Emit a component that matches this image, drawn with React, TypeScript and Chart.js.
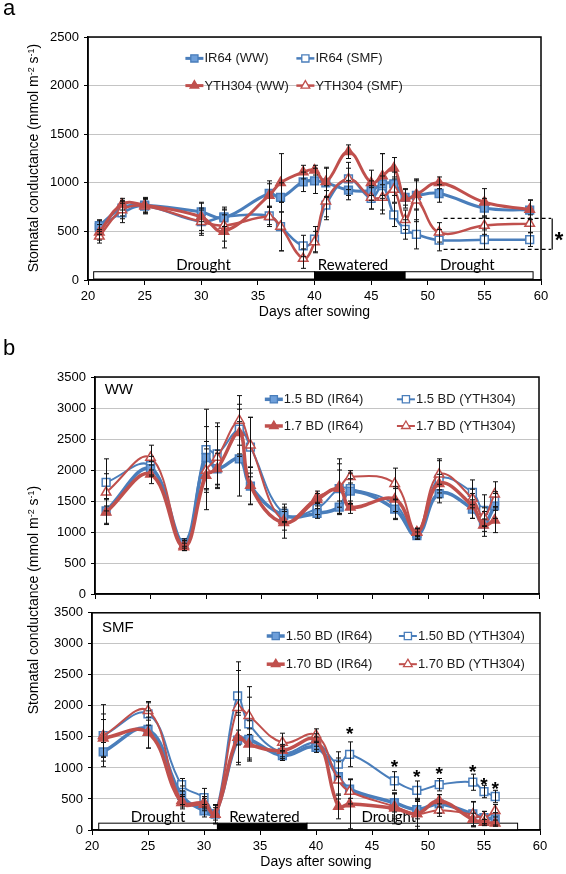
import React, { useEffect, useRef } from "react";
import { Chart, registerables } from "chart.js";

Chart.register(...registerables);

const FONT = "'Liberation Sans', Arial, Helvetica, sans-serif";
const NOTE_FONT = "Lato, 'Open Sans', sans-serif";
const BLUE = "#4A7EBB";
const BLUE_FILL = "#6E9FDA";
const RED = "#C0504D";
const WHITE = "#FFFFFF";

// ---------- Panel a ----------
const daysA = [21, 23, 25, 30, 32, 36, 37, 39, 40, 41, 43, 45, 46, 47, 48, 49, 51, 55, 59];
const ir64WW = [560, 740, 770, 700, 640, 890, 850, 1010, 1020, 1000, 925, 920, 990, 990, 850, 870, 890, 740, 720];
const ir64SMF = [540, 690, 760, 600, 650, 660, 550, 350, 420, 770, 1040, 840, 970, 670, 520, 470, 410, 415, 415];
const yth304WW = [490, 780, 770, 650, 500, 870, 1000, 1110, 1130, 1010, 1320, 1000, 1070, 1150, 840, 880, 1000, 800, 725];
const yth304SMF = [450, 720, 760, 600, 560, 650, 550, 220, 390, 810, 1040, 850, 850, 930, 620, 820, 490, 560, 580];
const ir64WWErr = [60, 80, 70, 100, 90, 130, 150, 100, 130, 150, 100, 100, 310, 120, 80, 150, 90, 100, 100];
const ir64SMFErr = [70, 100, 80, 120, 100, 90, 250, 110, 130, 150, 110, 110, 100, 120, 100, 150, 110, 100, 70];
const yth304WWErr = [80, 60, 80, 140, 170, 120, 300, 70, 50, 150, 70, 130, 230, 110, 100, 150, 60, 140, 100];
const yth304SMFErr = [70, 90, 70, 140, 160, 100, 250, 100, 110, 160, 170, 120, 130, 130, 100, 220, 100, 90, 90];
const periodsA = [
  { start: 20.5, end: 40, dark: false },
  { start: 40, end: 48, dark: true },
  { start: 48, end: 59.3, dark: false },
];
const periodLabelsA = [
  { text: "Drought", day: 30.2 },
  { text: "Rewatered", day: 43.4 },
  { text: "Drought", day: 53.5 },
];
const sigValuesA = [633, 315];
const sigDaysA = [51.4, 60.9];
const sigStarA = { day: 61.6, value: 470 };
const legendA = [
  { label: "IR64 (WW)", ds: 0, day: 28.6, value: 2280 },
  { label: "IR64 (SMF)", ds: 1, day: 38.4, value: 2280 },
  { label: "YTH304 (WW)", ds: 2, day: 28.6, value: 2000 },
  { label: "YTH304 (SMF)", ds: 3, day: 38.4, value: 2000 },
];

// ---------- Panel b ----------
const daysB = [21, 25, 28, 30, 31, 33, 34, 37, 40, 42, 43, 47, 49, 51, 54, 55, 56];
// WW
const ww15IR64 = [1340, 2020, 830, 2200, 2020, 2180, 1740, 1270, 1300, 1400, 1660, 1370, 940, 1620, 1370, 1130, 1420];
const ww15YTH = [1800, 2070, 800, 2330, 2260, 2660, 2370, 1300, 1380, 1700, 1700, 1450, 980, 1850, 1640, 1350, 1500];
const ww17IR64 = [1320, 1930, 760, 1910, 2020, 2600, 1750, 1150, 1520, 1700, 1400, 1530, 990, 1780, 1420, 1110, 1190];
const ww17YTH = [1640, 2200, 780, 1990, 2200, 2800, 2400, 1180, 1560, 1730, 1890, 1780, 1000, 1930, 1540, 1240, 1610];
const ww15IR64Err = [200, 120, 60, 500, 300, 600, 300, 100, 80, 100, 200, 150, 60, 150, 150, 200, 200];
const ww15YTHErr = [380, 150, 60, 650, 500, 400, 480, 150, 100, 400, 250, 250, 80, 300, 200, 250, 150];
const ww17IR64Err = [200, 150, 60, 550, 250, 380, 300, 250, 100, 300, 100, 200, 60, 150, 200, 100, 200];
const ww17YTHErr = [300, 200, 80, 350, 500, 400, 450, 150, 100, 450, 100, 250, 60, 250, 150, 150, 200];
const legendWW = [
  { label: "1.5 BD (IR64)", ds: 0, day: 35.3, value: 3140 },
  { label: "1.5 BD (YTH304)", ds: 1, day: 47.2, value: 3140 },
  { label: "1.7 BD (IR64)", ds: 2, day: 35.3, value: 2710 },
  { label: "1.7 BD (YTH304)", ds: 3, day: 47.2, value: 2710 },
];
// SMF
const smf150IR64 = [1260, 1620, 560, 310, 260, 1450, 1460, 1200, 1330, 860, 660, 440, 330, 420, 260, 200, 180];
const smf150YTH = [1520, 1870, 730, 520, 260, 2160, 1710, 1250, 1400, 1060, 1220, 790, 640, 730, 770, 620, 540];
const smf170IR64 = [1480, 1570, 440, 410, 250, 1490, 1380, 1280, 1450, 380, 420, 350, 260, 470, 170, 120, 110];
const smf170YTH = [1520, 1920, 470, 440, 250, 1970, 1840, 1410, 1530, 800, 620, 380, 260, 320, 250, 200, 310];
const smf150IR64Err = [150, 300, 150, 100, 100, 400, 300, 80, 80, 300, 150, 150, 150, 150, 200, 100, 100];
const smf150YTHErr = [500, 180, 100, 150, 150, 550, 600, 100, 100, 200, 200, 150, 150, 100, 130, 100, 100];
const smf170IR64Err = [300, 250, 100, 100, 150, 400, 250, 100, 100, 200, 400, 250, 250, 100, 100, 50, 50];
const smf170YTHErr = [350, 150, 100, 100, 150, 600, 300, 150, 100, 300, 200, 200, 200, 100, 200, 100, 100];
const smfStarDays = [43, 47, 49, 51, 54, 55, 56];
const smfStarValues = [1620, 1085, 925, 970, 1015, 800, 735];
const periodsB = [
  { start: 20.6, end: 31.2, dark: false },
  { start: 31.2, end: 39.2, dark: true },
  { start: 39.2, end: 58.0, dark: false },
];
const periodLabelsB = [
  { text: "Drought", day: 25.9 },
  { text: "Rewatered", day: 35.4 },
  { text: "Drought", day: 46.5 },
];
const legendSMF = [
  { label: "1.50 BD (IR64)", ds: 0, day: 35.6, value: 3126 },
  { label: "1.50 BD (YTH304)", ds: 1, day: 47.4, value: 3126 },
  { label: "1.70 BD (IR64)", ds: 2, day: 35.6, value: 2672 },
  { label: "1.70 BD (YTH304)", ds: 3, day: 47.4, value: 2672 },
];

// ---------- helpers ----------
function series(label: string, days: number[], vals: number[], errs: number[], kind: "sq" | "tri", filled: boolean, width: number) {
  const color = kind === "sq" ? BLUE : RED;
  return {
    label,
    data: days.map((d, i) => ({ x: d, y: vals[i] })),
    errors: errs,
    borderColor: color,
    borderWidth: width,
    tension: 0.4,
    fill: false,
    pointStyle: kind === "sq" ? "rect" : "triangle",
    pointRadius: 5.5,
    pointBackgroundColor: filled ? (kind === "sq" ? BLUE_FILL : RED) : WHITE,
    pointBorderColor: color,
    pointBorderWidth: 1.5,
    order: kind === "sq" ? 1 : 0,
  };
}

function drawMarker(ctx: CanvasRenderingContext2D, style: string, cx: number, cy: number, fill: string, stroke: string) {
  ctx.beginPath();
  if (style === "rect") {
    const s = 3.6;
    ctx.rect(cx - s, cy - s, 2 * s, 2 * s);
  } else {
    const r = 5;
    ctx.moveTo(cx, cy - r);
    ctx.lineTo(cx + r * 0.87, cy + r * 0.5);
    ctx.lineTo(cx - r * 0.87, cy + r * 0.5);
    ctx.closePath();
  }
  ctx.fillStyle = fill;
  ctx.fill();
  ctx.lineWidth = 1.3;
  ctx.strokeStyle = stroke;
  ctx.stroke();
}

type Extra = {
  periods?: { start: number; end: number; dark: boolean }[];
  band?: [number, number];
  periodLabels?: { text: string; day: number }[];
  legend?: { label: string; ds: number; day: number; value: number }[];
  tag?: { text: string; day: number; value: number };
  stars?: { days: number[]; values: number[]; size: number };
  sig?: boolean;
};

function makeDecor(ex: Extra) {
  return {
    id: "decor",
    beforeDatasetsDraw(chart: any) {
      const { ctx, scales } = chart;
      const x = scales.x, y = scales.y;
      if (ex.periods && ex.band) {
        const yTop = y.getPixelForValue(ex.band[1]);
        const yBot = y.getPixelForValue(ex.band[0]);
        ctx.save();
        for (const p of ex.periods) {
          const x0 = x.getPixelForValue(p.start);
          const x1 = x.getPixelForValue(p.end);
          ctx.fillStyle = p.dark ? "#000" : "#fff";
          ctx.fillRect(x0, yTop, x1 - x0, yBot - yTop);
          ctx.strokeStyle = "#000";
          ctx.lineWidth = 1;
          ctx.strokeRect(x0, yTop, x1 - x0, yBot - yTop);
        }
        if (ex.periodLabels) {
          ctx.font = `15px ${NOTE_FONT}`;
          ctx.fillStyle = "#000";
          ctx.textAlign = "center";
          ctx.textBaseline = "bottom";
          for (const l of ex.periodLabels) ctx.fillText(l.text, x.getPixelForValue(l.day), yTop + 1);
        }
        ctx.restore();
      }
    },
    afterDatasetsDraw(chart: any) {
      const { ctx, chartArea, scales } = chart;
      const y = scales.y;
      ctx.save();
      ctx.beginPath();
      ctx.rect(chartArea.left, chartArea.top - 2, chartArea.right - chartArea.left, chartArea.bottom - chartArea.top + 2);
      ctx.clip();
      ctx.strokeStyle = "#111";
      ctx.lineWidth = 1;
      chart.data.datasets.forEach((ds: any, i: number) => {
        if (!ds.errors) return;
        const meta = chart.getDatasetMeta(i);
        meta.data.forEach((pt: any, j: number) => {
          const v = ds.data[j].y;
          const e = ds.errors[j];
          const top = y.getPixelForValue(v + e);
          const bot = y.getPixelForValue(v - e);
          const px = Math.round(pt.x) + 0.5;
          ctx.beginPath();
          ctx.moveTo(px, top);
          ctx.lineTo(px, bot);
          ctx.moveTo(px - 2.5, top);
          ctx.lineTo(px + 2.5, top);
          ctx.moveTo(px - 2.5, bot);
          ctx.lineTo(px + 2.5, bot);
          ctx.stroke();
        });
      });
      ctx.restore();
    },
    afterDraw(chart: any) {
      const { ctx, chartArea, scales } = chart;
      const x = scales.x, y = scales.y;
      ctx.save();
      // plot frame
      ctx.strokeStyle = "#000";
      ctx.lineWidth = 1.5;
      ctx.strokeRect(chartArea.left, chartArea.top, chartArea.right - chartArea.left, chartArea.bottom - chartArea.top);
      // legend
      if (ex.legend) {
        ctx.font = `13px ${FONT}`;
        ctx.textBaseline = "middle";
        ctx.textAlign = "left";
        for (const it of ex.legend) {
          const ds: any = chart.data.datasets[it.ds];
          const x0 = x.getPixelForValue(it.day);
          const yy = y.getPixelForValue(it.value);
          const len = 18;
          ctx.beginPath();
          ctx.moveTo(x0, yy);
          ctx.lineTo(x0 + len, yy);
          ctx.strokeStyle = ds.borderColor;
          ctx.lineWidth = ds.borderWidth;
          ctx.stroke();
          drawMarker(ctx, ds.pointStyle, x0 + len / 2, yy, ds.pointBackgroundColor, ds.pointBorderColor);
          ctx.fillStyle = "#1a1a1a";
          ctx.fillText(it.label, x0 + len + 1, yy + 0.5);
        }
      }
      if (ex.tag) {
        ctx.font = `15px ${FONT}`;
        ctx.fillStyle = "#000";
        ctx.textAlign = "left";
        ctx.textBaseline = "middle";
        ctx.fillText(ex.tag.text, x.getPixelForValue(ex.tag.day), y.getPixelForValue(ex.tag.value));
      }
      if (ex.stars) {
        const sz = ex.stars.size;
        ctx.font = `bold ${sz}px ${FONT}`;
        ctx.fillStyle = "#000";
        ctx.textAlign = "center";
        ctx.textBaseline = "alphabetic";
        ex.stars.days.forEach((d, i) => {
          ctx.fillText("*", x.getPixelForValue(d), y.getPixelForValue(ex.stars!.values[i]) + sz * 0.56);
        });
      }
      if (ex.sig) {
        const xa = x.getPixelForValue(sigDaysA[0]);
        const xb = x.getPixelForValue(sigDaysA[1]);
        const ya = y.getPixelForValue(sigValuesA[0]);
        const yb = y.getPixelForValue(sigValuesA[1]);
        ctx.strokeStyle = "#000";
        ctx.lineWidth = 1.2;
        ctx.setLineDash([4, 3]);
        ctx.beginPath();
        ctx.moveTo(xa, ya);
        ctx.lineTo(xb, ya);
        ctx.moveTo(xa, yb);
        ctx.lineTo(xb, yb);
        ctx.stroke();
        ctx.setLineDash([]);
        ctx.beginPath();
        ctx.moveTo(xb + 1, ya);
        ctx.lineTo(xb + 1, yb);
        ctx.stroke();
        const sz = 22;
        ctx.font = `bold ${sz}px ${FONT}`;
        ctx.fillStyle = "#000";
        ctx.textAlign = "center";
        ctx.textBaseline = "alphabetic";
        ctx.fillText("*", x.getPixelForValue(sigStarA.day), y.getPixelForValue(sigStarA.value) + sz * 0.56);
      }
      ctx.restore();
    },
  };
}

function makeConfig(p: {
  datasets: any[];
  yMax: number;
  yWidth: number;
  xHeight: number;
  padding: { left: number; right: number; top: number; bottom: number };
  xLabels: boolean;
  xTitle: boolean;
  titlePad: number;
  extra: Extra;
}) {
  return {
    type: "line" as const,
    data: { datasets: p.datasets },
    options: {
      responsive: false,
      animation: false,
      events: [],
      layout: { padding: p.padding },
      plugins: { legend: { display: false }, tooltip: { enabled: false } },
      scales: {
        x: {
          type: "linear",
          min: 20,
          max: 60,
          ticks: {
            stepSize: 5,
            display: p.xLabels,
            color: "#000",
            font: { family: FONT, size: 13 },
            padding: 4,
            maxRotation: 0,
            autoSkip: false,
            callback: (v: any) => String(v),
          },
          grid: { drawOnChartArea: false, drawTicks: true, tickLength: 5, tickColor: "#000", color: "#000" },
          border: { display: true, color: "#000", width: 1.5 },
          title: {
            display: p.xTitle,
            text: "Days after sowing",
            color: "#000",
            font: { family: FONT, size: 14 },
            padding: { top: 0, bottom: p.titlePad },
          },
          afterFit: (s: any) => {
            s.height = p.xHeight;
          },
        },
        y: {
          min: 0,
          max: p.yMax,
          ticks: {
            stepSize: 500,
            color: "#000",
            font: { family: FONT, size: 13 },
            padding: 5,
            callback: (v: any) => String(v),
          },
          grid: { color: "#C4C4C4", lineWidth: 1, tickColor: "#000", tickLength: 4, drawTicks: true },
          border: { display: true, color: "#000", width: 1.5 },
          afterFit: (s: any) => {
            s.width = p.yWidth;
          },
        },
      },
    },
    plugins: [makeDecor(p.extra)],
  };
}

function ChartBox({ top, left, width, height, make }: { top: number; left: number; width: number; height: number; make: () => any }) {
  const ref = useRef<HTMLCanvasElement>(null);
  useEffect(() => {
    const chart = new Chart(ref.current as HTMLCanvasElement, make());
    return () => chart.destroy();
  }, []);
  return <canvas ref={ref} width={width} height={height} style={{ position: "absolute", top, left, width, height }} />;
}

const configA = () =>
  makeConfig({
    datasets: [
      series("IR64 (WW)", daysA, ir64WW, ir64WWErr, "sq", true, 3),
      series("IR64 (SMF)", daysA, ir64SMF, ir64SMFErr, "sq", false, 2.5),
      series("YTH304 (WW)", daysA, yth304WW, yth304WWErr, "tri", true, 3),
      series("YTH304 (SMF)", daysA, yth304SMF, yth304SMFErr, "tri", false, 2.5),
    ],
    yMax: 2500,
    yWidth: 88,
    xHeight: 50,
    padding: { left: 0, right: 25, top: 37, bottom: 0 },
    xLabels: true,
    xTitle: true,
    titlePad: 9,
    extra: { periods: periodsA, band: [10, 85], periodLabels: periodLabelsA, legend: legendA, sig: true },
  });

const configWW = () =>
  makeConfig({
    datasets: [
      series("1.5 BD (IR64)", daysB, ww15IR64, ww15IR64Err, "sq", true, 3.5),
      series("1.5 BD (YTH304)", daysB, ww15YTH, ww15YTHErr, "sq", false, 2),
      series("1.7 BD (IR64)", daysB, ww17IR64, ww17IR64Err, "tri", true, 3.5),
      series("1.7 BD (YTH304)", daysB, ww17YTH, ww17YTHErr, "tri", false, 2),
    ],
    yMax: 3500,
    yWidth: 95,
    xHeight: 14,
    padding: { left: 0, right: 27, top: 47, bottom: 0 },
    xLabels: false,
    xTitle: false,
    titlePad: 0,
    extra: { legend: legendWW, tag: { text: "WW", day: 20.87, value: 3285 } },
  });

const configSMF = () =>
  makeConfig({
    datasets: [
      series("1.50 BD (IR64)", daysB, smf150IR64, smf150IR64Err, "sq", true, 3.5),
      series("1.50 BD (YTH304)", daysB, smf150YTH, smf150YTHErr, "sq", false, 2),
      series("1.70 BD (IR64)", daysB, smf170IR64, smf170IR64Err, "tri", true, 3.5),
      series("1.70 BD (YTH304)", daysB, smf170YTH, smf170YTHErr, "tri", false, 2),
    ],
    yMax: 3500,
    yWidth: 92,
    xHeight: 44,
    padding: { left: 0, right: 26, top: 12, bottom: 0 },
    xLabels: true,
    xTitle: true,
    titlePad: 3,
    extra: {
      periods: periodsB,
      band: [0, 110],
      periodLabels: periodLabelsB,
      legend: legendSMF,
      tag: { text: "SMF", day: 20.9, value: 3263 },
      stars: { days: smfStarDays, values: smfStarValues, size: 19 },
    },
  });

function YTitle({ x, y }: { x: number; y: number }) {
  return (
    <div
      style={{
        position: "absolute",
        left: x,
        top: y,
        transform: "translate(-50%, -50%) rotate(-90deg)",
        whiteSpace: "nowrap",
        fontFamily: FONT,
        fontSize: 14,
        lineHeight: 1,
        color: "#000",
      }}
    >
      Stomatal conductance (mmol m<sup style={{ fontSize: 9, verticalAlign: "4px" }}>-2</sup> s
      <sup style={{ fontSize: 9, verticalAlign: "4px" }}>-1</sup>)
    </div>
  );
}

export default function App() {
  return (
    <div style={{ position: "fixed", left: 0, top: 0, width: 566, height: 874, background: "#fff", overflow: "hidden" }}>
      <ChartBox top={0} left={0} width={566} height={330} make={configA} />
      <ChartBox top={330} left={0} width={566} height={278} make={configWW} />
      <ChartBox top={600} left={0} width={566} height={274} make={configSMF} />
      <YTitle x={33} y={158} />
      <YTitle x={33} y={600} />
      <div style={{ position: "absolute", left: 3, top: -3, fontFamily: FONT, fontSize: 22, lineHeight: "22px" }}>a</div>
      <div style={{ position: "absolute", left: 3, top: 337, fontFamily: FONT, fontSize: 22, lineHeight: "22px" }}>b</div>
    </div>
  );
}
